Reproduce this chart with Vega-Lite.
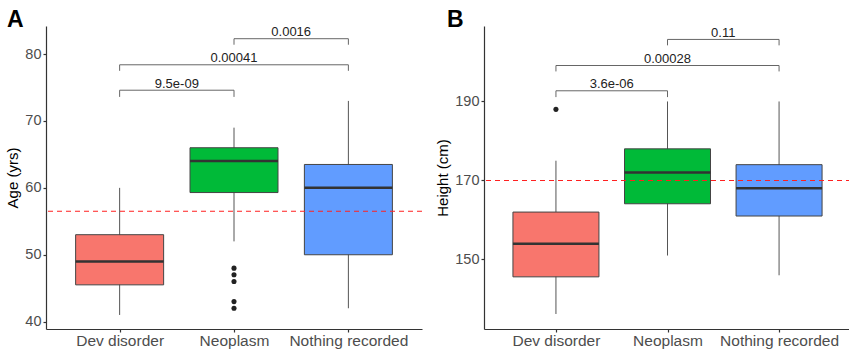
{
  "$schema": "https://vega.github.io/schema/vega-lite/v6.json",
  "padding": {"left": 5, "top": 9, "right": 0, "bottom": 0},
  "bounds": "flush",
  "spacing": 62,
  "config": {
    "font": "Liberation Sans",
    "view": {"stroke": null},
    "axis": {
      "grid": false,
      "domainColor": "#333333",
      "domainWidth": 1.2,
      "tickColor": "#333333",
      "tickWidth": 1.2,
      "tickSize": 3,
      "labelColor": "#4D4D4D",
      "labelFont": "Liberation Sans",
      "labelFontSize": 14.5,
      "titleFont": "Liberation Sans",
      "titleFontSize": 15,
      "titleFontWeight": "normal",
      "titleColor": "#000000"
    }
  },
  "datasets": {
    "boxA": [
      {"group": "Dev disorder", "pos": 1, "lower": 41, "q1": 45.5, "median": 49, "q3": 53, "upper": 60},
      {"group": "Neoplasm", "pos": 2, "lower": 52, "q1": 59.3, "median": 64, "q3": 66, "upper": 69},
      {"group": "Nothing recorded", "pos": 3, "lower": 42, "q1": 50, "median": 60, "q3": 63.5, "upper": 73}
    ],
    "outA": [
      {"group": "Neoplasm", "pos": 2, "value": 48},
      {"group": "Neoplasm", "pos": 2, "value": 47},
      {"group": "Neoplasm", "pos": 2, "value": 46},
      {"group": "Neoplasm", "pos": 2, "value": 43},
      {"group": "Neoplasm", "pos": 2, "value": 42}
    ],
    "brA": [
      {"x1": 1, "x2": 2, "xmid": 1.5, "y": 74.6, "yt": 73.6, "p": "9.5e-09"},
      {"x1": 1, "x2": 3, "xmid": 2, "y": 78.4, "yt": 77.5, "p": "0.00041"},
      {"x1": 2, "x2": 3, "xmid": 2.5, "y": 82.3, "yt": 81.4, "p": "0.0016"}
    ],
    "refA": [{"ref": 56.5}],
    "boxB": [
      {"group": "Dev disorder", "pos": 1, "lower": 136.2, "q1": 145.6, "median": 154, "q3": 162, "upper": 175},
      {"group": "Neoplasm", "pos": 2, "lower": 151, "q1": 164.1, "median": 172, "q3": 178, "upper": 190},
      {"group": "Nothing recorded", "pos": 3, "lower": 146, "q1": 161, "median": 168, "q3": 174, "upper": 190}
    ],
    "outB": [
      {"group": "Dev disorder", "pos": 1, "value": 188}
    ],
    "brB": [
      {"x1": 1, "x2": 2, "xmid": 1.5, "y": 192.7, "yt": 191.1, "p": "3.6e-06"},
      {"x1": 1, "x2": 3, "xmid": 2, "y": 199.1, "yt": 197.6, "p": "0.00028"},
      {"x1": 2, "x2": 3, "xmid": 2.5, "y": 205.7, "yt": 204.2, "p": "0.11"}
    ],
    "refB": [{"ref": 170}]
  },
  "hconcat": [
    {
      "width": 376,
      "height": 303,
      "title": {"text": "A", "anchor": "start", "frame": "group", "dx": -39, "dy": 23, "fontSize": 23, "fontWeight": "bold", "color": "#000000", "baseline": "alphabetic", "offset": -1},
      "layer": [
        {
          "data": {"name": "boxA"},
          "mark": {"type": "rule", "color": "#555555", "strokeWidth": 1},
          "encoding": {
            "x": {"field": "pos", "type": "quantitative", "title": null, "scale": {"domain": [0.4, 3.6], "nice": false, "zero": false},
              "axis": {"values": [1, 2, 3], "labelPadding": 1, "labelFontSize": 15.5, "labelExpr": "datum.value == 1 ? 'Dev disorder' : datum.value == 2 ? 'Neoplasm' : 'Nothing recorded'"}},
            "y": {"field": "lower", "type": "quantitative", "title": "Age (yrs)", "scale": {"domain": [38.9, 84.2], "nice": false, "zero": false},
              "axis": {"values": [40, 50, 60, 70, 80], "titlePadding": 4}},
            "y2": {"field": "upper"}
          }
        },
        {
          "data": {"name": "boxA"},
          "mark": {"type": "bar", "size": 88, "stroke": "#444444", "strokeWidth": 1, "opacity": 1},
          "encoding": {
            "x": {"field": "pos", "type": "quantitative", "title": null},
            "y": {"field": "q1", "type": "quantitative", "title": "Age (yrs)"},
            "y2": {"field": "q3"},
            "color": {"field": "group", "type": "nominal", "legend": null,
              "scale": {"domain": ["Dev disorder", "Neoplasm", "Nothing recorded"], "range": ["#F8766D", "#00BA38", "#619CFF"]}}
          }
        },
        {
          "data": {"name": "boxA"},
          "mark": {"type": "tick", "orient": "horizontal", "size": 88, "thickness": 2.5, "color": "#333333", "opacity": 1},
          "encoding": {
            "x": {"field": "pos", "type": "quantitative", "title": null},
            "y": {"field": "median", "type": "quantitative", "title": "Age (yrs)"}
          }
        },
        {
          "data": {"name": "outA"},
          "mark": {"type": "point", "filled": true, "size": 26, "color": "#222222", "opacity": 1},
          "encoding": {
            "x": {"field": "pos", "type": "quantitative", "title": null},
            "y": {"field": "value", "type": "quantitative", "title": "Age (yrs)"}
          }
        },
        {
          "data": {"name": "refA"},
          "mark": {"type": "rule", "color": "#FF2020", "strokeWidth": 1.1, "strokeDash": [5, 4]},
          "encoding": {
            "y": {"field": "ref", "type": "quantitative", "title": "Age (yrs)"}
          }
        },
        {
          "data": {"name": "brA"},
          "mark": {"type": "rule", "color": "#666666", "strokeWidth": 1},
          "encoding": {
            "x": {"field": "x1", "type": "quantitative", "title": null},
            "x2": {"field": "x2"},
            "y": {"field": "y", "type": "quantitative", "title": "Age (yrs)"}
          }
        },
        {
          "data": {"name": "brA"},
          "mark": {"type": "rule", "color": "#666666", "strokeWidth": 1},
          "encoding": {
            "x": {"field": "x1", "type": "quantitative", "title": null},
            "y": {"field": "y", "type": "quantitative", "title": "Age (yrs)"},
            "y2": {"field": "yt"}
          }
        },
        {
          "data": {"name": "brA"},
          "mark": {"type": "rule", "color": "#666666", "strokeWidth": 1},
          "encoding": {
            "x": {"field": "x2", "type": "quantitative", "title": null},
            "y": {"field": "y", "type": "quantitative", "title": "Age (yrs)"},
            "y2": {"field": "yt"}
          }
        },
        {
          "data": {"name": "brA"},
          "mark": {"type": "text", "fontSize": 13, "color": "#222222", "baseline": "alphabetic", "dy": -2.5, "font": "Liberation Sans"},
          "encoding": {
            "x": {"field": "xmid", "type": "quantitative", "title": null},
            "y": {"field": "y", "type": "quantitative", "title": "Age (yrs)"},
            "text": {"field": "p"}
          }
        }
      ]
    },
    {
      "width": 367,
      "height": 303,
      "title": {"text": "B", "anchor": "start", "frame": "group", "dx": -37, "dy": 23, "fontSize": 23, "fontWeight": "bold", "color": "#000000", "baseline": "alphabetic", "offset": -1},
      "layer": [
        {
          "data": {"name": "boxB"},
          "mark": {"type": "rule", "color": "#555555", "strokeWidth": 1},
          "encoding": {
            "x": {"field": "pos", "type": "quantitative", "title": null, "scale": {"domain": [0.4, 3.6], "nice": false, "zero": false},
              "axis": {"values": [1, 2, 3], "labelPadding": 1, "labelFontSize": 15.5, "labelExpr": "datum.value == 1 ? 'Dev disorder' : datum.value == 2 ? 'Neoplasm' : 'Nothing recorded'"}},
            "y": {"field": "lower", "type": "quantitative", "title": "Height (cm)", "scale": {"domain": [132.4, 209.1], "nice": false, "zero": false},
              "axis": {"values": [150, 170, 190], "titlePadding": 4}},
            "y2": {"field": "upper"}
          }
        },
        {
          "data": {"name": "boxB"},
          "mark": {"type": "bar", "size": 86, "stroke": "#444444", "strokeWidth": 1, "opacity": 1},
          "encoding": {
            "x": {"field": "pos", "type": "quantitative", "title": null},
            "y": {"field": "q1", "type": "quantitative", "title": "Height (cm)"},
            "y2": {"field": "q3"},
            "color": {"field": "group", "type": "nominal", "legend": null,
              "scale": {"domain": ["Dev disorder", "Neoplasm", "Nothing recorded"], "range": ["#F8766D", "#00BA38", "#619CFF"]}}
          }
        },
        {
          "data": {"name": "boxB"},
          "mark": {"type": "tick", "orient": "horizontal", "size": 86, "thickness": 2.5, "color": "#333333", "opacity": 1},
          "encoding": {
            "x": {"field": "pos", "type": "quantitative", "title": null},
            "y": {"field": "median", "type": "quantitative", "title": "Height (cm)"}
          }
        },
        {
          "data": {"name": "outB"},
          "mark": {"type": "point", "filled": true, "size": 26, "color": "#222222", "opacity": 1},
          "encoding": {
            "x": {"field": "pos", "type": "quantitative", "title": null},
            "y": {"field": "value", "type": "quantitative", "title": "Height (cm)"}
          }
        },
        {
          "data": {"name": "refB"},
          "mark": {"type": "rule", "color": "#FF2020", "strokeWidth": 1.1, "strokeDash": [5, 4]},
          "encoding": {
            "y": {"field": "ref", "type": "quantitative", "title": "Height (cm)"}
          }
        },
        {
          "data": {"name": "brB"},
          "mark": {"type": "rule", "color": "#666666", "strokeWidth": 1},
          "encoding": {
            "x": {"field": "x1", "type": "quantitative", "title": null},
            "x2": {"field": "x2"},
            "y": {"field": "y", "type": "quantitative", "title": "Height (cm)"}
          }
        },
        {
          "data": {"name": "brB"},
          "mark": {"type": "rule", "color": "#666666", "strokeWidth": 1},
          "encoding": {
            "x": {"field": "x1", "type": "quantitative", "title": null},
            "y": {"field": "y", "type": "quantitative", "title": "Height (cm)"},
            "y2": {"field": "yt"}
          }
        },
        {
          "data": {"name": "brB"},
          "mark": {"type": "rule", "color": "#666666", "strokeWidth": 1},
          "encoding": {
            "x": {"field": "x2", "type": "quantitative", "title": null},
            "y": {"field": "y", "type": "quantitative", "title": "Height (cm)"},
            "y2": {"field": "yt"}
          }
        },
        {
          "data": {"name": "brB"},
          "mark": {"type": "text", "fontSize": 13, "color": "#222222", "baseline": "alphabetic", "dy": -2.5, "font": "Liberation Sans"},
          "encoding": {
            "x": {"field": "xmid", "type": "quantitative", "title": null},
            "y": {"field": "y", "type": "quantitative", "title": "Height (cm)"},
            "text": {"field": "p"}
          }
        }
      ]
    }
  ]
}
